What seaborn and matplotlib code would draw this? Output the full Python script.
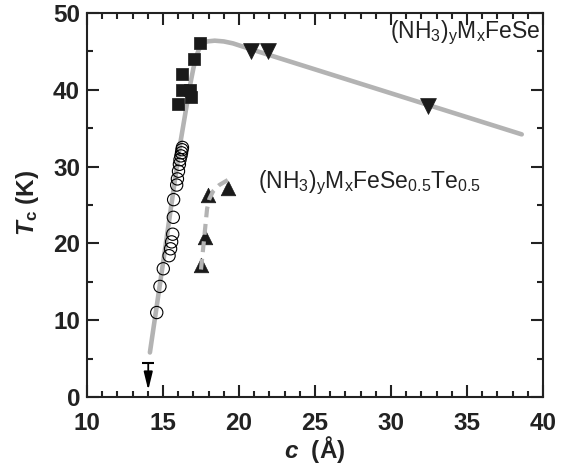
import numpy as np
import pandas as pd
import matplotlib
matplotlib.use("Agg")
import matplotlib.pyplot as plt
from matplotlib.ticker import MultipleLocator
import seaborn as sns

# ---- data ----
sq_c = [17.43, 17.04, 16.27, 16.23, 16.78, 16.84, 16.01]
sq_tc = [46.1, 44.0, 42.0, 40.0, 40.0, 39.0, 38.1]

tri_dn_c = [20.77, 21.89, 32.45]
tri_dn_tc = [45.0, 45.0, 37.9]

circ_c = [14.59, 14.80, 15.02, 15.40, 15.50, 15.57, 15.64, 15.68, 15.70, 15.90,
          15.95, 16.02, 16.08, 16.12, 16.18, 16.22, 16.25, 16.28]
circ_tc = [11.0, 14.4, 16.7, 18.4, 19.3, 20.2, 21.2, 23.4, 25.7, 27.6,
           28.4, 29.4, 30.3, 30.9, 31.4, 31.8, 32.2, 32.5]

tri_up_c = [17.48, 17.76, 17.98, 19.30]
tri_up_tc = [17.2, 20.9, 26.3, 27.2]

fit_c = [14.14, 15.0, 16.1, 16.8, 17.0, 17.2, 17.35, 17.6, 17.9, 18.4, 19.0,
         19.6, 20.3, 21.0, 21.4, 38.6]
fit_tc = [5.8, 17.4, 32.6, 40.8, 42.8, 44.4, 45.2, 46.0, 46.3, 46.4, 46.3,
          46.05, 45.6, 45.15, 44.9, 34.2]

dash_c = [17.5, 17.65, 17.8, 17.9, 18.05, 18.3, 18.7, 19.3]
dash_tc = [16.6, 19.5, 22.5, 24.5, 25.8, 26.8, 27.6, 28.3]

limit_c = 14.03
limit_tc = 4.4

xticks = [10, 15, 20, 25, 30, 35, 40]
yticks = [0, 10, 20, 30, 40, 50]

# ---- style ----
sns.set_theme(style="ticks")
plt.rcParams["font.family"] = ["Liberation Sans", "DejaVu Sans"]
plt.rcParams["mathtext.fontset"] = "custom"
plt.rcParams["mathtext.rm"] = "Liberation Sans"
plt.rcParams["mathtext.it"] = "Liberation Sans:italic"
plt.rcParams["mathtext.bf"] = "Liberation Sans:bold"
plt.rcParams["mathtext.bfit"] = "Liberation Sans:italic:bold"

fig = plt.figure(figsize=(5.67, 4.65), dpi=100)
ax = fig.add_axes([0.1534, 0.1462, 0.8043, 0.8258])

ink = "#222222"
gray = "#b3b3b3"
fit_df = pd.DataFrame({"c": fit_c, "Tc": fit_tc})
sns.lineplot(data=fit_df, x="c", y="Tc", sort=False, color=gray, lw=3.3,
             ax=ax, zorder=1)

circ_df = pd.DataFrame({"c": circ_c, "Tc": circ_tc})
sns.scatterplot(data=circ_df, x="c", y="Tc", marker="o", s=78,
                facecolor="none", edgecolor="black", linewidth=0.8, ax=ax,
                zorder=3)

sq_df = pd.DataFrame({"c": sq_c, "Tc": sq_tc})
sns.scatterplot(data=sq_df, x="c", y="Tc", marker="s", s=82,
                color="#1a1a1a", edgecolor="#1a1a1a", linewidth=0.5, ax=ax,
                zorder=4)

dn_df = pd.DataFrame({"c": tri_dn_c, "Tc": tri_dn_tc})
sns.scatterplot(data=dn_df, x="c", y="Tc", marker="v", s=130,
                color="#1a1a1a", edgecolor="#1a1a1a", linewidth=0.5, ax=ax,
                zorder=4)

up_df = pd.DataFrame({"c": tri_up_c, "Tc": tri_up_tc})
sns.scatterplot(data=up_df, x="c", y="Tc", marker="^", s=110,
                color="#1a1a1a", edgecolor="#1a1a1a", linewidth=0.5, ax=ax,
                zorder=4)

dash_df = pd.DataFrame({"c": dash_c, "Tc": dash_tc})
sns.lineplot(data=dash_df, x="c", y="Tc", sort=False, color=gray, lw=3.0,
             ax=ax, zorder=5, dashes=False)
ax.lines[-1].set_dashes([2.6, 1.6])

# upper-limit arrow
ax.annotate("", xy=(limit_c, 0.9), xytext=(limit_c, limit_tc),
            arrowprops=dict(arrowstyle="-|>,head_length=0.9,head_width=0.22",
                            color="black", lw=1.3, shrinkA=0, shrinkB=0))
ax.plot([limit_c], [limit_tc], marker="_", ms=8, mew=1.5, color="black")

# labels in plot
ax.text(39.85, 46.7, r"$\mathregular{(NH_3)_yM_xFeSe}$", fontsize=16.5,
        ha="right", va="baseline", color=ink)
ax.text(21.27, 27.2, r"$\mathregular{(NH_3)_yM_xFeSe_{0.5}Te_{0.5}}$",
        fontsize=16.5, ha="left", va="baseline", color=ink)

ax.set_xlim(10, 40)
ax.set_ylim(0, 50)
ax.set_xticks(xticks)
ax.set_yticks(yticks)
ax.xaxis.set_minor_locator(MultipleLocator(1))
ax.yaxis.set_minor_locator(MultipleLocator(5))
ax.tick_params(which="both", direction="in", top=True, right=True,
               width=1.5, color=ink)
ax.tick_params(which="major", length=8.6, labelsize=17.5)
ax.tick_params(which="minor", length=4.3)
ax.tick_params(axis="x", which="major", pad=11)
ax.tick_params(axis="y", which="major", pad=5)
for lab in ax.get_xticklabels() + ax.get_yticklabels():
    lab.set_fontweight("bold")
    lab.set_color(ink)
for sp in ax.spines.values():
    sp.set_linewidth(1.5)
    sp.set_color(ink)

ax.set_xlabel(r"$\mathbfit{c}$  (Å)", fontsize=17.5, fontweight="bold",
              color=ink)
ax.set_ylabel(r"$\mathbfit{T}_{\mathregular{c}}$ (K)", fontsize=17.5,
              fontweight="bold", color=ink)
ax.xaxis.set_label_coords(0.5, -0.097)
ax.yaxis.set_label_coords(-0.10, 0.505)

fig.savefig("out.png", dpi=100)
